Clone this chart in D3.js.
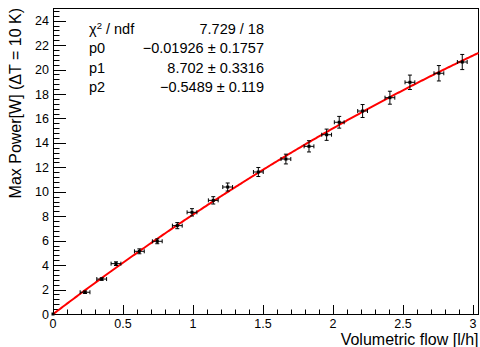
<!DOCTYPE html>
<html><head><meta charset="utf-8">
<script src="https://cdn.jsdelivr.net/npm/d3@7"></script>
<style>body{margin:0;background:#fff}svg{display:block}text{font-family:"Liberation Sans",Arial,Helvetica,sans-serif}</style>
</head><body><svg id="c" width="480" height="347"></svg>
<script>
const flow = [0, 0.229, 0.348, 0.45, 0.617, 0.745, 0.888, 0.993, 1.145, 1.248, 1.467, 1.664, 1.829, 1.955, 2.045, 2.212, 2.407, 2.55, 2.757, 2.924];
const power = [0, 1.78, 2.86, 4.12, 5.13, 5.95, 7.23, 8.32, 9.30, 10.39, 11.62, 12.68, 13.72, 14.67, 15.69, 16.61, 17.70, 18.96, 19.70, 20.62];
const powerErr = [0, 0.1, 0.1, 0.15, 0.2, 0.2, 0.25, 0.3, 0.3, 0.33, 0.37, 0.4, 0.46, 0.46, 0.48, 0.53, 0.53, 0.59, 0.63, 0.62];
const flowErr = [0, 0.035, 0.035, 0.035, 0.035, 0.035, 0.035, 0.035, 0.035, 0.035, 0.035, 0.035, 0.035, 0.035, 0.035, 0.035, 0.035, 0.035, 0.035, 0.035];
const fitParams = [-0.01926, 8.702, -0.5489];
const statLabels = ["p0", "p1", "p2"];
const statValues = ["\u22120.01926 \u00b1 0.1757", "8.702 \u00b1 0.3316", "\u22120.5489 \u00b1 0.119"];
const chiText = "7.729 / 18";
const xTicks = [0, 0.5, 1, 1.5, 2, 2.5, 3];
const yTicks = [0, 2, 4, 6, 8, 10, 12, 14, 16, 18, 20, 22, 24];

const svg = d3.select("#c");
const L = 53, R = 478.5, T = 8, B = 314;
const x = d3.scaleLinear().domain([0, 3.04]).range([L, R]);
const y = d3.scaleLinear().domain([0, 25.04]).range([B, T]);

// frame
svg.append("rect").attr("x", L).attr("y", T).attr("width", R - L).attr("height", B - T)
  .attr("fill", "none").attr("stroke", "#000").attr("stroke-width", 1).attr("shape-rendering", "crispEdges");

// x axis
const xMinor = d3.range(0, 3.041, 0.1);
const gx = svg.append("g");
gx.selectAll("line.mi").data(xMinor).join("line")
  .attr("x1", d => Math.round(x(d)) + 0.5).attr("x2", d => Math.round(x(d)) + 0.5)
  .attr("y1", B).attr("y2", B - 4.5).attr("stroke", "#000");
gx.selectAll("line.ma").data(xTicks).join("line")
  .attr("x1", d => Math.round(x(d)) + 0.5).attr("x2", d => Math.round(x(d)) + 0.5)
  .attr("y1", B).attr("y2", B - 9).attr("stroke", "#000");
gx.selectAll("text").data(xTicks).join("text")
  .attr("x", d => x(d)).attr("y", B + 13.5).attr("text-anchor", "middle")
  .attr("font-size", 12.5).text(d => d3.format("")(d));

// y axis
const yMinor = d3.range(0, 25.01, 0.4);
const gy = svg.append("g");
gy.selectAll("line.mi").data(yMinor).join("line")
  .attr("y1", d => Math.round(y(d)) + 0.5).attr("y2", d => Math.round(y(d)) + 0.5)
  .attr("x1", L).attr("x2", L + 6.5).attr("stroke", "#000");
gy.selectAll("line.ma").data(yTicks).join("line")
  .attr("y1", d => Math.round(y(d)) + 0.5).attr("y2", d => Math.round(y(d)) + 0.5)
  .attr("x1", L).attr("x2", L + 13).attr("stroke", "#000");
gy.selectAll("text").data(yTicks).join("text")
  .attr("x", L - 4).attr("y", d => y(d) + 4.5).attr("text-anchor", "end")
  .attr("font-size", 12.5).text(d => d);

// titles
svg.append("text").attr("x", R).attr("y", 344.5).attr("text-anchor", "end")
  .attr("font-size", 16).text("Volumetric flow [l/h]");
svg.append("text").attr("transform", `translate(21,${T}) rotate(-90)`).attr("text-anchor", "end")
  .attr("font-size", 16).text("Max Power[W] (\u0394T = 10 K)");

// fit curve
const fx = d3.range(0, 3.0401, 0.01);
const f = v => fitParams[0] + fitParams[1] * v + fitParams[2] * v * v;
svg.append("path").datum(fx).attr("fill", "none").attr("stroke", "#ff0000").attr("stroke-width", 2)
  .attr("d", d3.line().x(d => x(d)).y(d => y(f(d))));

// points
const pts = flow.map((v, i) => ({ x: v, y: power[i], ex: flowErr[i], ey: powerErr[i] }));
const gp = svg.append("g").attr("stroke", "#000").attr("stroke-width", 1);
const cap = 2;
pts.forEach(p => {
  const cx = x(p.x), cy = y(p.y);
  if (p.ey > 0) {
    gp.append("line").attr("x1", cx).attr("x2", cx).attr("y1", y(p.y - p.ey)).attr("y2", y(p.y + p.ey));
    gp.append("line").attr("x1", cx - cap).attr("x2", cx + cap).attr("y1", y(p.y - p.ey)).attr("y2", y(p.y - p.ey));
    gp.append("line").attr("x1", cx - cap).attr("x2", cx + cap).attr("y1", y(p.y + p.ey)).attr("y2", y(p.y + p.ey));
  }
  if (p.ex > 0) {
    gp.append("line").attr("x1", x(p.x - p.ex)).attr("x2", x(p.x + p.ex)).attr("y1", cy).attr("y2", cy);
    gp.append("line").attr("x1", x(p.x - p.ex)).attr("x2", x(p.x - p.ex)).attr("y1", cy - cap).attr("y2", cy + cap);
    gp.append("line").attr("x1", x(p.x + p.ex)).attr("x2", x(p.x + p.ex)).attr("y1", cy - cap).attr("y2", cy + cap);
  }
  svg.append("rect").attr("x", cx - 1.5).attr("y", cy - 1.5).attr("width", 3).attr("height", 3).attr("fill", "#000");
});

// stats
const sx = 89, vx = 264, s0 = 34, ds = 19.3, fs = 14.5;
const t0 = svg.append("text").attr("x", sx).attr("y", s0).attr("font-size", fs);
t0.append("tspan").text("\u03c7");
t0.append("tspan").attr("font-size", 9.5).attr("dy", -5.5).text("2");
t0.append("tspan").attr("dy", 5.5).text(" / ndf");
svg.append("text").attr("x", vx).attr("y", s0).attr("text-anchor", "end").attr("font-size", fs).text(chiText);
statLabels.forEach((l, i) => {
  svg.append("text").attr("x", sx).attr("y", s0 + ds * (i + 1)).attr("font-size", fs).text(l);
  svg.append("text").attr("x", vx).attr("y", s0 + ds * (i + 1)).attr("text-anchor", "end").attr("font-size", fs).text(statValues[i]);
});
</script></body></html>
